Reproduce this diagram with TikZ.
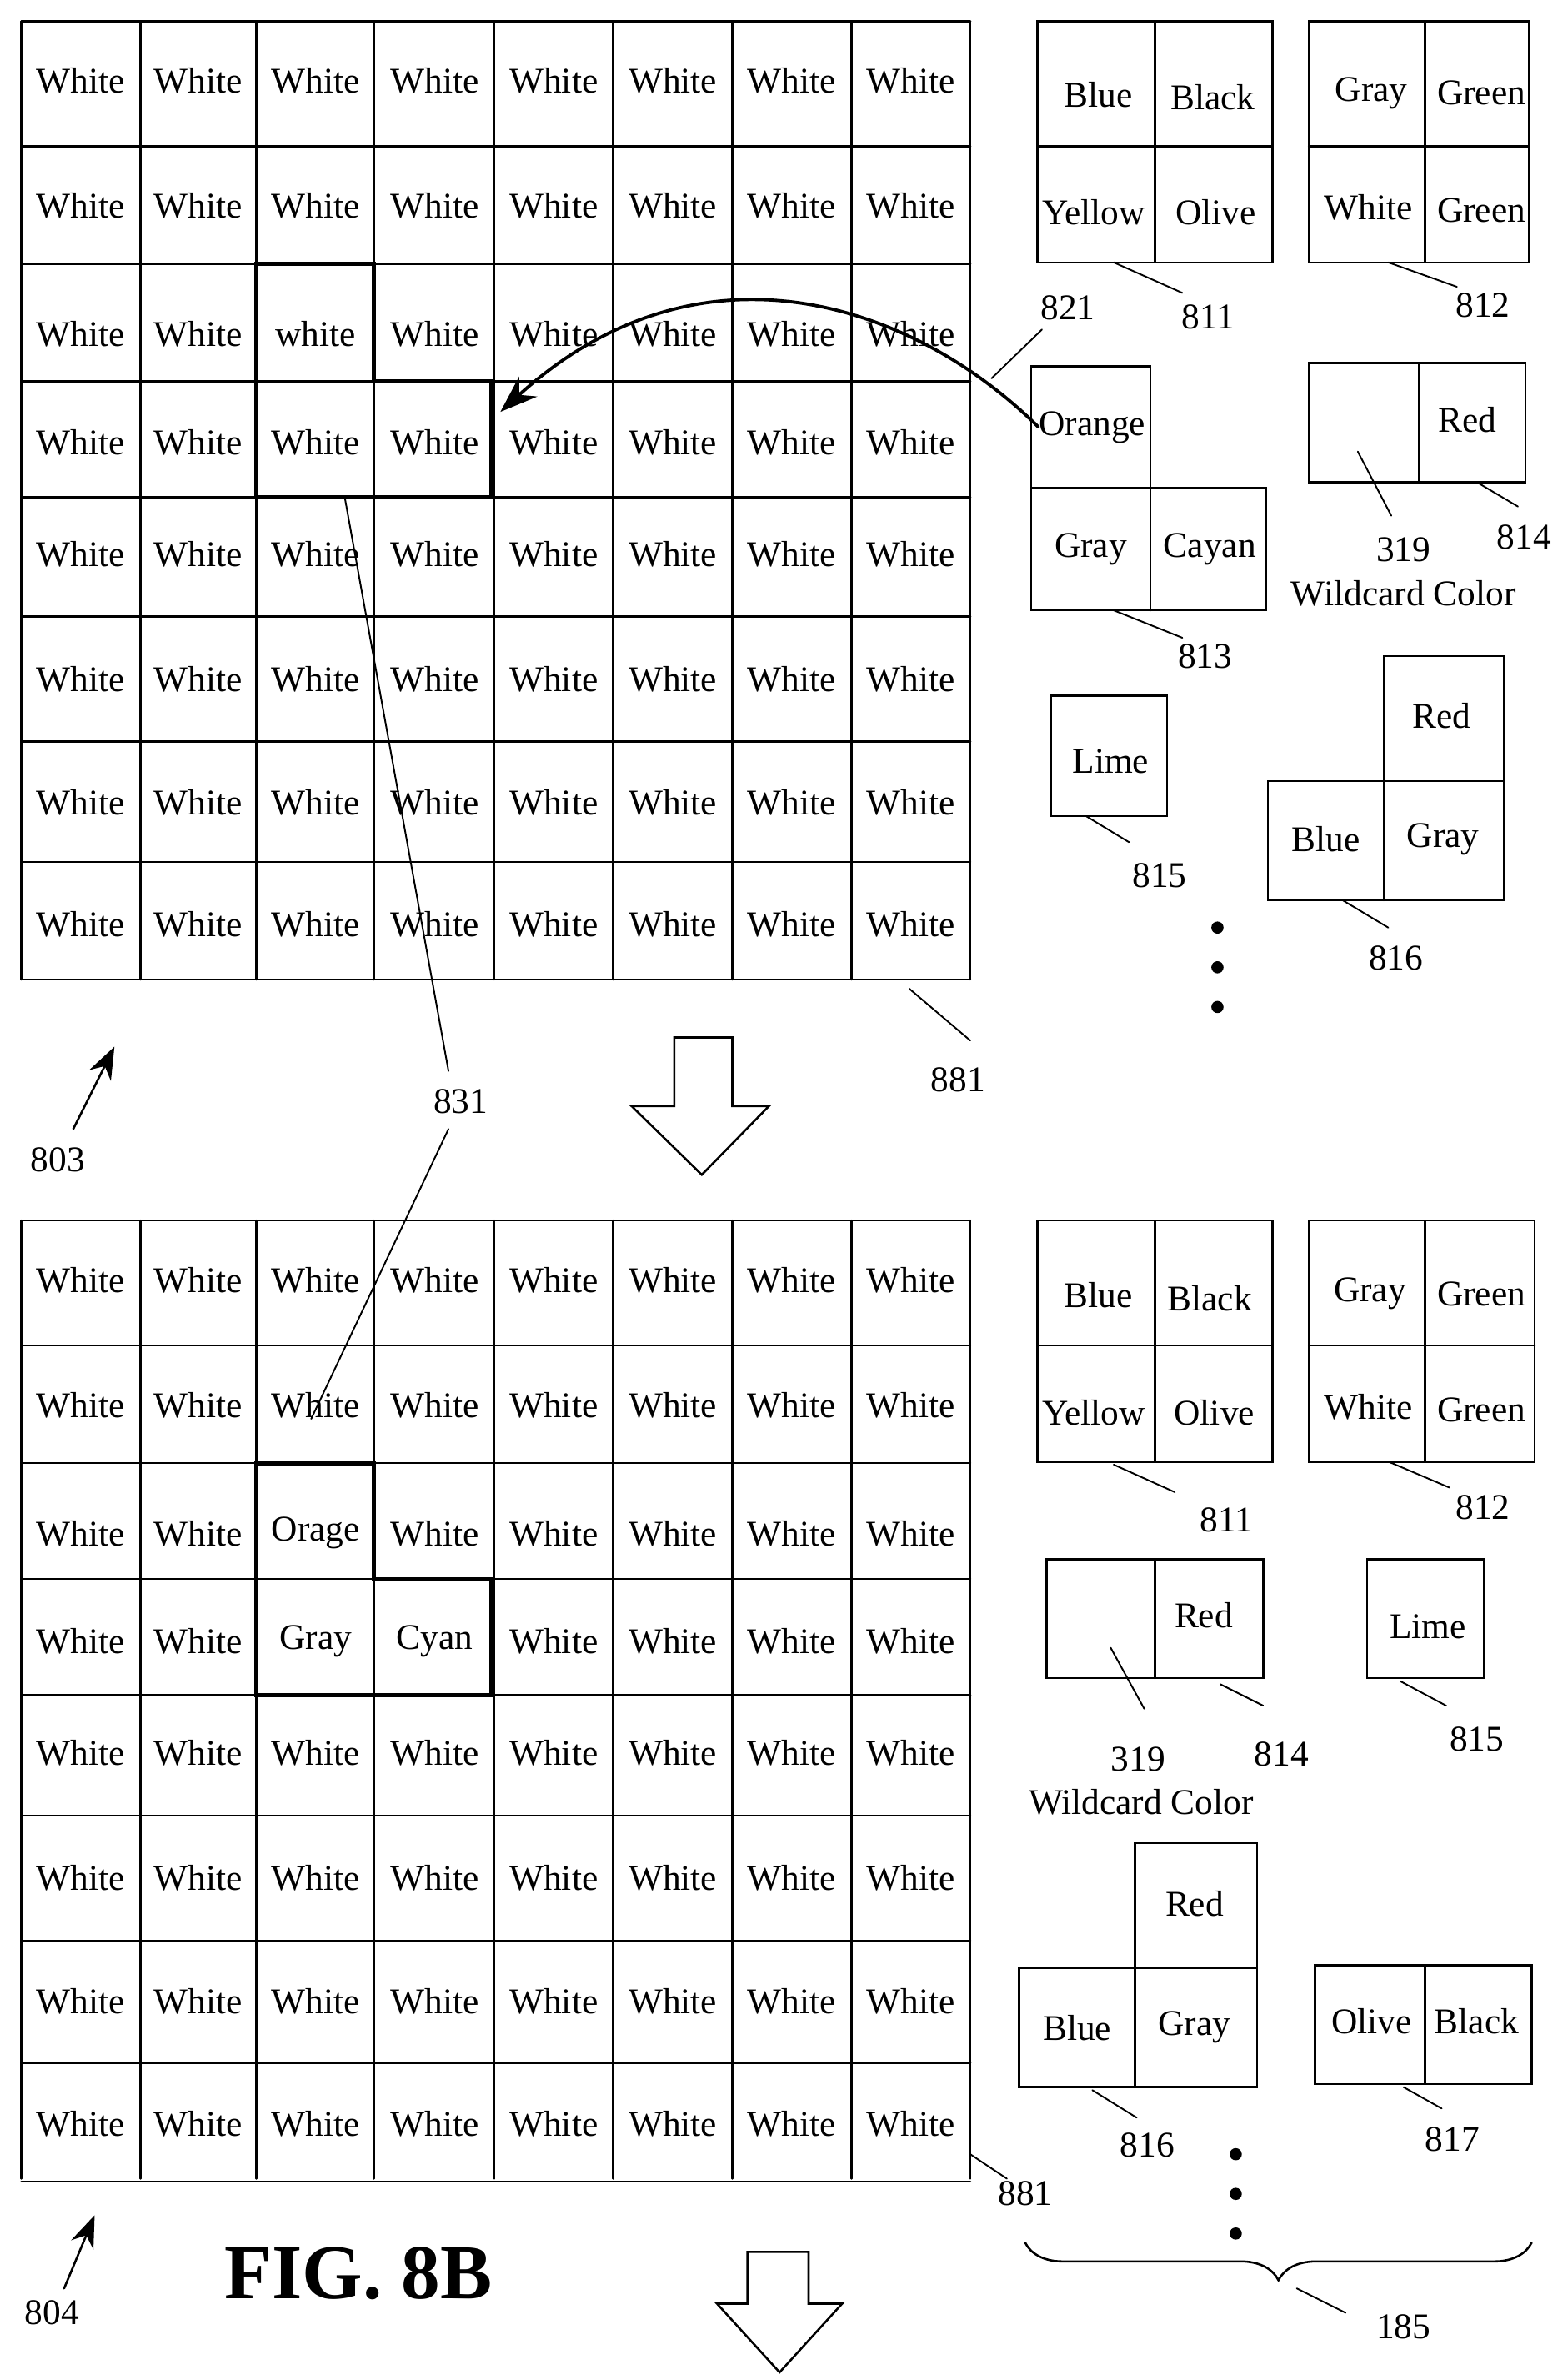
\documentclass[tikz,border=0pt]{standalone}
\usepackage{fontspec}
\setmainfont{Liberation Serif}
\usetikzlibrary{calc,decorations.pathreplacing,arrows.meta}
\pgfkeys{/cells/.cd,top-3-3/.initial=white,bot-3-3/.initial=Orage,bot-3-4/.initial=Gray,bot-4-4/.initial=Cyan}
\newcommand{\celltext}[1]{\pgfkeysifdefined{/cells/#1}{\pgfkeysvalueof{/cells/#1}}{White}}
\begin{document}
\begin{tikzpicture}
		[x=0.02cm,y=-0.02cm,line cap=round,
		%Styles
		cell/.style={font=\fontsize{13.5}{16}\selectfont,inner sep=0pt},
		lbl/.style={font=\fontsize{13.5}{16}\selectfont,inner sep=1pt},
		grid line/.style={thick},
		piece/.style={thick},
		important line/.style={ultra thick},
		leader/.style={semithick},
		blockarrow/.style={thick,fill=white}
		]
		\useasboundingbox (0,0) rectangle (1024,1560);

		%The grids
		\foreach \gy/\gn/\rows in {0/top/{14,96,173,250,326,404,486,565,642},
			786/bot/{800,882,959,1035,1111,1190,1272,1352,1430}} {
			\foreach \c [count=\i] in {14,92,168,245,324,402,480,558,636}
				\draw[grid line] (\c,\gy+14) -- (\c,\gy+642);
			\foreach \r in \rows
				\draw[grid line] (14,\r) -- (636,\r);
			\foreach \cx [count=\i] in {53,130,207,285,363,441,519,597}
				\foreach \ry [count=\j] in {53,135,219,290,363,445,526,606}
					\node[cell] (\gn-\i-\j) at (\cx,\gy+\ry) {\celltext{\gn-\i-\j}};
		}
		\draw[important line] (168,173) -- (245,173) -- (245,250) -- (322,250) -- (322,326) -- (168,326) -- cycle;
		\draw[important line] (168,959) -- (245,959) -- (245,1035) -- (322,1035) -- (322,1111) -- (168,1111) -- cycle;

		%Pieces, top
		\draw[piece] (680,14) rectangle (834,172) (757,14) -- (757,172) (680,96) -- (834,96);
		\node[cell] at (720,62) {Blue}; \node[cell] at (795,64) {Black};
		\node[cell] at (717,139) {Yellow}; \node[cell] at (797,139) {Olive};
		\draw[piece] (858,14) rectangle (1002,172) (934,14) -- (934,172) (858,96) -- (1002,96);
		\node[cell] at (899,61) {Gray}; \node[cell] at (971,61) {Green};
		\node[cell] at (897,136) {White}; \node[cell] at (971,138) {Green};
		\draw[piece] (676,240) rectangle (754,320) (676,320) rectangle (830,400) (754,320) -- (754,400);
		\node[cell] (orange) at (716,280) {Orange}; \node[cell] at (715,360) {Gray}; \node[cell] at (793,360) {Cayan};
		\draw[piece] (858,238) rectangle (1000,316) (930,238) -- (930,316);
		\node[cell] at (962,275) {Red};
		\draw[piece] (689,456) rectangle (765,535);
		\node[cell] at (728,499) {Lime};
		\draw[piece] (907,430) rectangle (986,512) (831,512) rectangle (986,590) (907,512) -- (907,590);
		\node[cell] at (945,469) {Red}; \node[cell] at (869,550) {Blue}; \node[cell] at (946,550) {Gray};
		\foreach \y in {608,634,660} \fill (798,\y) circle (4);

		%Pieces, bottom
		\draw[piece] (680,800) rectangle (834,958) (757,800) -- (757,958) (680,882) -- (834,882);
		\node[cell] at (720,849) {Blue}; \node[cell] at (793,851) {Black};
		\node[cell] at (717,926) {Yellow}; \node[cell] at (796,926) {Olive};
		\draw[piece] (858,800) rectangle (1006,958) (934,800) -- (934,958) (858,882) -- (1006,882);
		\node[cell] at (898,848) {Gray}; \node[cell] at (971,848) {Green};
		\node[cell] at (897,922) {White}; \node[cell] at (971,924) {Green};
		\draw[piece] (686,1022) rectangle (828,1100) (757,1022) -- (757,1100);
		\node[cell] at (789,1059) {Red};
		\draw[piece] (896,1022) rectangle (973,1100);
		\node[cell] at (936,1066) {Lime};
		\draw[piece] (744,1208) rectangle (824,1290) (668,1290) rectangle (824,1368) (744,1290) -- (744,1368);
		\node[cell] at (783,1248) {Red}; \node[cell] at (706,1329) {Blue}; \node[cell] at (783,1329) {Gray};
		\draw[piece] (862,1288) rectangle (1004,1366) (934,1288) -- (934,1366);
		\node[cell] at (899,1325) {Olive}; \node[cell] at (968,1325) {Black};
		\foreach \y in {1412,1438,1464} \fill (810,\y) circle (4);
		\draw[thick,decorate,decoration={brace,mirror,amplitude=14}] (672,1470) -- (1004,1470);

		%Labels and leaders
		\foreach \x/\y/\lx/\ly in {730/172/775/192, 910/172/955/188, 730/400/775/418,
			968/316/995/332, 890/296/912/338, 712/535/740/552, 880/590/910/608,
			596/648/636/682, 683/216/650/248,
			730/960/770/978, 910/958/950/975, 728/1080/750/1120, 800/1104/828/1118,
			918/1102/948/1118, 716/1370/745/1388, 920/1368/945/1382, 850/1500/882/1516,
			636/1412/660/1428}
			\draw[leader] (\x,\y) -- (\lx,\ly);
		\foreach \x/\y/\t in {792/208/811, 972/200/812, 790/430/813, 999/352/814, 920/360/319,
			760/574/815, 915/628/816, 628/708/881, 700/202/821, 302/722/831, 38/760/803,
			804/996/811, 972/988/812, 746/1153/319, 840/1150/814, 968/1140/815, 752/1406/816,
			952/1402/817, 920/1525/185, 672/1438/881, 34/1516/804}
			\node[lbl] (l\t-\x) at (\x,\y) {\t};
		\node[lbl] (wild-top) at (920,389) {Wildcard Color};
		\node[lbl] (wild-bot) at (748,1181) {Wildcard Color};
		\draw[leader] (226,326) -- (294,702);
		\draw[leader] (294,740) -- (204,930);
		\draw[-{Stealth[length=14pt,width=10pt]},very thick] (orange.west) .. controls (600,200) and (460,150) .. (328,270);
		\draw[-{Stealth[length=12pt,width=9pt]},thick] (48,740) -- (75,686);
		\draw[-{Stealth[length=12pt,width=9pt]},thick] (42,1500) -- (62,1452);
		\node[font=\bfseries\fontsize{29}{32}\selectfont] (fig) at (235,1490) {FIG. 8B};

		%Block arrows
		\draw[blockarrow] (442,680) -- (480,680) -- (480,725) -- (504,725) -- (460,770) -- (414,725) -- (442,725) -- cycle;
		\draw[blockarrow] (490,1476) -- (530,1476) -- (530,1510) -- (552,1510) -- (511,1555) -- (470,1510) -- (490,1510) -- cycle;
	\end{tikzpicture}
\end{document}
